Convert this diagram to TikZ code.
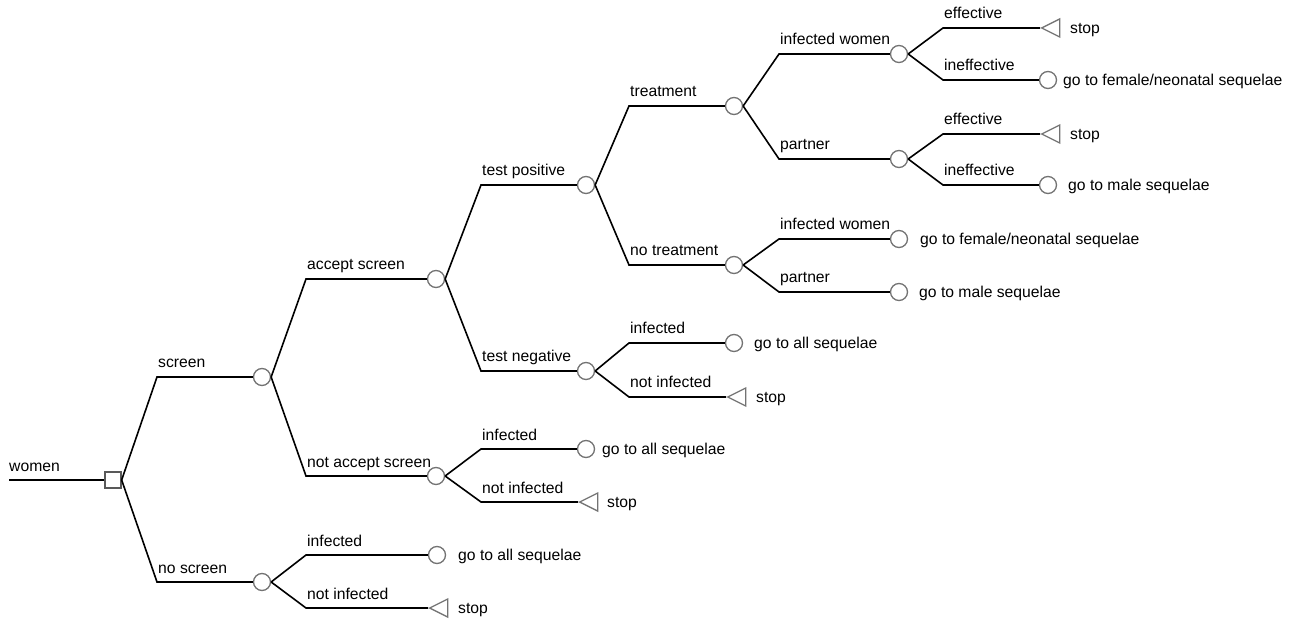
\documentclass[tikz,border=0pt]{standalone}
\usepackage{fontspec}
\setmainfont{Liberation Sans}
\usetikzlibrary{shapes.geometric}
\tikzset{
  conn/.style={draw=black, line width=1.6pt},
  chance/.style={circle, draw=black!55, line width=1.3pt, fill=white, minimum size=17pt, inner sep=0pt},
  decision/.style={rectangle, draw=black!65, line width=1.3pt, fill=white, minimum size=16pt, inner sep=0pt},
  termtri/.style={isosceles triangle, shape border rotate=180, isosceles triangle stretches,
    draw=black!55, line width=1.3pt, fill=white, minimum width=18pt, minimum height=18pt, inner sep=0pt, anchor=apex},
  lab/.style={anchor=base west, inner sep=0pt, font=\fontsize{15.7}{18}\selectfont},
  endlab/.style={anchor=base west, inner sep=0pt, font=\fontsize{15.7}{18}\selectfont},
}
% parent, bend x, y, child, label
\newcommand\mybranch[5]{%
  \coordinate (bend-#4) at (#2,#3);
  \draw[conn] (#1.east) -- (bend-#4) -- (#4);
  \node[lab] (lab-#4) at (#2+1,#3-9) {#5};}
\begin{document}
\begin{tikzpicture}[x=1pt,y=-1pt]
\useasboundingbox (0,0) rectangle (1299,620);
% decision node and chance nodes
\node[decision] (sq) at (113,480) {};
\node[chance] (c1) at (262,377) {};
\node[chance] (c2) at (262,582) {};
\node[chance] (c3) at (436,279) {};
\node[chance] (c4) at (436,476) {};
\node[chance] (c5) at (586,185) {};
\node[chance] (c6) at (586,371) {};
\node[chance] (c7) at (734,106) {};
\node[chance] (c8) at (734,265) {};
\node[chance] (c9) at (899,54) {};
\node[chance] (c10) at (899,159) {};
% terminal nodes
\node[chance] (t1) at (437,555) {};
\node[termtri] (t2) at (428,608) {};
\node[chance] (t3) at (586,449) {};
\node[termtri] (t4) at (578,502) {};
\node[chance] (t5) at (734,343) {};
\node[termtri] (t6) at (726,397) {};
\node[chance] (t7) at (899,239) {};
\node[chance] (t8) at (899,292) {};
\node[termtri] (t9) at (1040,28) {};
\node[chance] (t10) at (1048,80) {};
\node[termtri] (t11) at (1040,134) {};
\node[chance] (t12) at (1048,185) {};
% root
\coordinate (w0) at (9,480);
\draw[conn] (w0) -- (sq);
\node[lab] (lab-w) at (9,471) {women};
% branches
\mybranch{sq}{157}{377}{c1}{screen}
\mybranch{sq}{157}{582}{c2}{no screen}
\mybranch{c1}{306}{279}{c3}{accept screen}
\mybranch{c1}{306}{476}{c4}{not accept screen}
\mybranch{c2}{306}{555}{t1}{infected}
\mybranch{c2}{306}{608}{t2}{not infected}
\mybranch{c3}{481}{185}{c5}{test positive}
\mybranch{c3}{481}{371}{c6}{test negative}
\mybranch{c4}{481}{449}{t3}{infected}
\mybranch{c4}{481}{502}{t4}{not infected}
\mybranch{c5}{629}{106}{c7}{treatment}
\mybranch{c5}{629}{265}{c8}{no treatment}
\mybranch{c6}{629}{343}{t5}{infected}
\mybranch{c6}{629}{397}{t6}{not infected}
\mybranch{c7}{779}{54}{c9}{infected women}
\mybranch{c7}{779}{159}{c10}{partner}
\mybranch{c8}{779}{239}{t7}{infected women}
\mybranch{c8}{779}{292}{t8}{partner}
\mybranch{c9}{943}{28}{t9}{effective}
\mybranch{c9}{943}{80}{t10}{ineffective}
\mybranch{c10}{943}{134}{t11}{effective}
\mybranch{c10}{943}{185}{t12}{ineffective}
% end labels
\node[endlab] (e1) at (458,560.5) {go to all sequelae};
\node[endlab] (e2) at (458,613.5) {stop};
\node[endlab] (e3) at (602,454.5) {go to all sequelae};
\node[endlab] (e4) at (607,507.5) {stop};
\node[endlab] (e5) at (754,348.5) {go to all sequelae};
\node[endlab] (e6) at (756,402.5) {stop};
\node[endlab] (e7) at (920,244.5) {go to female/neonatal sequelae};
\node[endlab] (e8) at (919,297.5) {go to male sequelae};
\node[endlab] (e9) at (1070,33.5) {stop};
\node[endlab] (e10) at (1063,85.5) {go to female/neonatal sequelae};
\node[endlab] (e11) at (1070,139.5) {stop};
\node[endlab] (e12) at (1068,190.5) {go to male sequelae};
\end{tikzpicture}
\end{document}
